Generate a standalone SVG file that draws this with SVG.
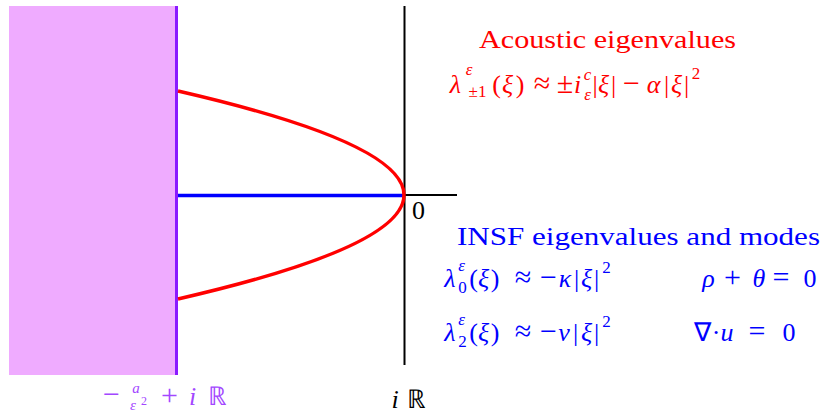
<svg xmlns="http://www.w3.org/2000/svg" width="822" height="415" viewBox="0 0 822 415">
<style>
.c{text-anchor:middle}
.it{font-style:italic}
.sm{font-size:17px}
.op{font-size:30px}
.red{fill:#ff0000}
.blue{fill:#0000ff}
.pur{fill:#a347ff}
.blk{fill:#000000}
</style>
<g id="region">
<rect x="9" y="6" width="167" height="369" fill="#efabff"/>
<line x1="176.5" y1="6" x2="176.5" y2="375" stroke="#8a1aff" stroke-width="3"/>
</g>
<g id="axes">
<line x1="404.5" y1="6" x2="404.5" y2="365" stroke="#000" stroke-width="2"/>
<line x1="404" y1="195" x2="457" y2="195" stroke="#000" stroke-width="2"/>
</g>
<g id="connectors">
<line x1="178" y1="195.5" x2="404" y2="195.5" stroke="#0000ff" stroke-width="3.5"/>
<path d="M178,91 Q630,195 178,299" fill="none" stroke="#ff0000" stroke-width="3.5"/>
</g>
<g id="label-zero"><text font-family="Liberation Serif" font-size="26" class="blk c" x="418.5" y="219">0</text></g>
<g id="label-iR"><text font-family="Liberation Serif" font-size="26" class="blk c"><tspan class="it" x="395" y="408">i</tspan><tspan x="416.5" y="408" font-family="serif">ℝ</tspan></text></g>
<g id="label-shift">
<text font-family="Liberation Serif" font-size="26" class="pur c"><tspan class="op" x="111.5" y="404">−</tspan><tspan class="it" font-size="15" x="136" y="393">a</tspan><tspan class="it" font-size="15" x="133" y="410">ε</tspan><tspan x="144" y="405" font-size="12">2</tspan><tspan class="op" x="169.5" y="405">+</tspan><tspan class="it" x="192.5" y="405">i</tspan><tspan x="217.5" y="405" font-family="serif">ℝ</tspan></text>
</g>
<g id="acoustic">
<text font-family="Liberation Serif" font-size="26" class="red" x="479" y="48" textLength="257" lengthAdjust="spacingAndGlyphs">Acoustic eigenvalues</text>
<text font-family="Liberation Serif" font-size="26" class="red c"><tspan class="it" x="455.5" y="93">λ</tspan><tspan class="it sm" x="469" y="75">ε</tspan><tspan class="sm" x="477.5" y="97">±1</tspan><tspan x="496.5" y="93">(</tspan><tspan class="it" x="507.5" y="93">ξ</tspan><tspan x="520" y="93">)</tspan><tspan class="op" x="542" y="93">≈</tspan><tspan class="op" x="565" y="93">±</tspan><tspan class="it" x="577.5" y="93">i</tspan><tspan class="it sm" x="587.5" y="80">c</tspan><tspan class="it sm" x="587.5" y="100">ε</tspan><tspan x="595" y="93">|</tspan><tspan class="it" x="603.5" y="93">ξ</tspan><tspan x="613.5" y="93">|</tspan><tspan class="op" x="631.5" y="93">−</tspan><tspan class="it" x="653.5" y="93">α</tspan><tspan x="666.5" y="93">|</tspan><tspan class="it" x="676.5" y="93">ξ</tspan><tspan x="686.5" y="93">|</tspan><tspan class="sm" x="696" y="79">2</tspan></text>
</g>
<g id="insf">
<text font-family="Liberation Serif" font-size="26" class="blue" x="457" y="245" textLength="363" lengthAdjust="spacingAndGlyphs">INSF eigenvalues and modes</text>
<text font-family="Liberation Serif" font-size="26" class="blue c"><tspan class="it" x="450" y="287">λ</tspan><tspan class="it sm" x="461.5" y="271">ε</tspan><tspan class="sm" x="462.5" y="293">0</tspan><tspan x="473.5" y="287">(</tspan><tspan class="it" x="483.5" y="287">ξ</tspan><tspan x="495" y="287">)</tspan><tspan class="op" x="523" y="287">≈</tspan><tspan class="op" x="548.5" y="287">−</tspan><tspan class="it" x="565" y="287">κ</tspan><tspan x="576.5" y="287">|</tspan><tspan class="it" x="586.5" y="287">ξ</tspan><tspan x="596.5" y="287">|</tspan><tspan class="sm" x="606.5" y="273">2</tspan></text>
<text font-family="Liberation Serif" font-size="26" class="blue c"><tspan class="it" x="708.5" y="287">ρ</tspan><tspan class="op" x="732.5" y="287">+</tspan><tspan class="it" x="759" y="287">θ</tspan><tspan class="op" x="781" y="287">=</tspan><tspan x="810" y="287">0</tspan></text>
<text font-family="Liberation Serif" font-size="26" class="blue c"><tspan class="it" x="450" y="341">λ</tspan><tspan class="it sm" x="461.5" y="325">ε</tspan><tspan class="sm" x="462.5" y="347">2</tspan><tspan x="473.5" y="341">(</tspan><tspan class="it" x="483.5" y="341">ξ</tspan><tspan x="495" y="341">)</tspan><tspan class="op" x="523" y="341">≈</tspan><tspan class="op" x="548.5" y="341">−</tspan><tspan class="it" x="564" y="341">ν</tspan><tspan x="575.5" y="341">|</tspan><tspan class="it" x="586.5" y="341">ξ</tspan><tspan x="596.5" y="341">|</tspan><tspan class="sm" x="606.5" y="327">2</tspan></text>
<text font-family="Liberation Serif" font-size="26" class="blue c"><tspan x="702" y="341">∇</tspan><tspan x="716" y="341">·</tspan><tspan class="it" x="727" y="341">u</tspan><tspan class="op" x="757" y="341">=</tspan><tspan x="789" y="341">0</tspan></text>
</g>
</svg>
